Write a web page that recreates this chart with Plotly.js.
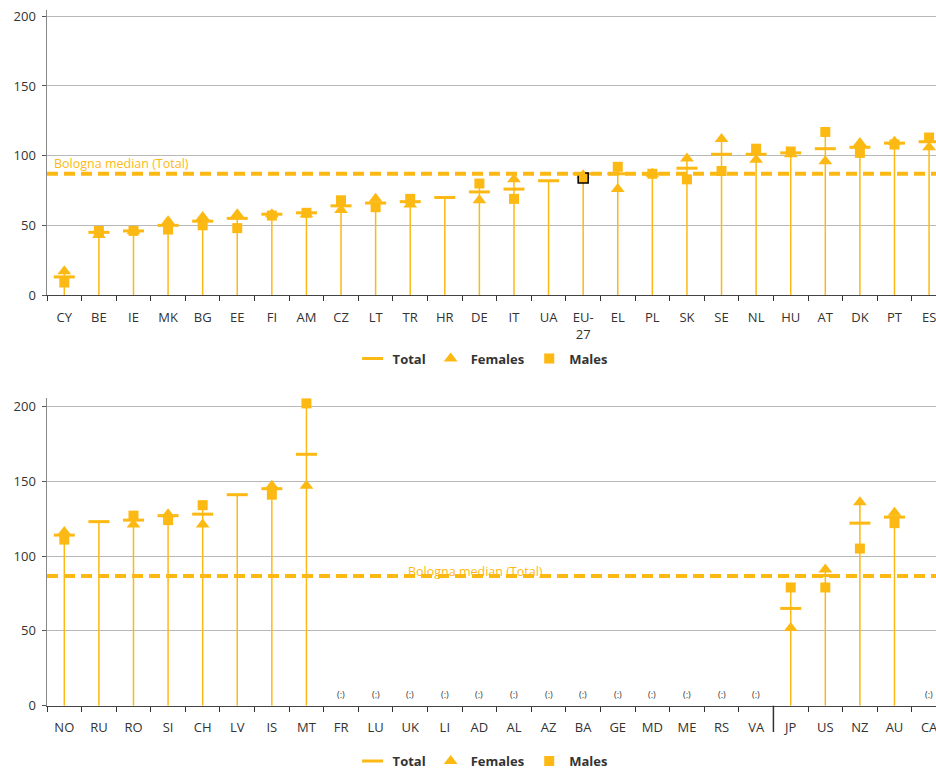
<!DOCTYPE html>
<html>
<head>
<meta charset="utf-8">
<script src="https://cdn.plot.ly/plotly-3.0.1.min.js"></script>
<style>html,body{margin:0;padding:0;background:#fff;}#chart{width:936px;height:776px;}</style>
</head>
<body>
<div id="chart"></div>
<script>
// ---------- DATA ----------
const topCategories = ['CY','BE','IE','MK','BG','EE','FI','AM','CZ','LT','TR','HR','DE','IT','UA','EU-<br>27','EL','PL','SK','SE','NL','HU','AT','DK','PT','ES'];
const topTotal   = [13,45,46,50,53,55,58,59,64,66,67,70,74,76,82,87,87,87,91,101,101,102,105,106,109,110];
const topFemales = [17,43,46,53,56,58,58,58,61,69,65,null,68,83,null,86,76,87,98,112,97,101,96,109,110,106];
const topMales   = [9,46,46,47,50,48,57,59,68,63,69,null,80,69,null,84,92,87,83,89,105,103,117,102,108,113];

const bottomCategories = ['NO','RU','RO','SI','CH','LV','IS','MT','FR','LU','UK','LI','AD','AL','AZ','BA','GE','MD','ME','RS','VA','JP','US','NZ','AU','CA'];
const bottomTotal   = [114,123,124,127,128,141,145,168,null,null,null,null,null,null,null,null,null,null,null,null,null,65,87,122,126,null];
const bottomFemales = [116,null,121,128,121,null,147,147,null,null,null,null,null,null,null,null,null,null,null,null,null,52,91,136,129,null];
const bottomMales   = [111,null,127,124,134,null,141,202,null,null,null,null,null,null,null,null,null,null,null,null,null,79,79,105,122,null];

const bolognaMedian = 87;
const medianLabel = 'Bologna median (Total)';
const missingLabel = '(:)';
const highlightedCategory = 'EU-<br>27';

// ---------- STYLE ----------
const ORANGE = '#FDB913';
const FONT = '"Open Sans", "DejaVu Sans", sans-serif';
const TXT = '#333333';

function stems(cats, a, b, c, xa, ya) {
  const xs = [], ys = [];
  cats.forEach((cat, i) => {
    const vals = [a[i], b[i], c[i]].filter(v => v !== null && v !== undefined);
    if (vals.length) {
      xs.push(cat, cat, null);
      ys.push(0, Math.max(...vals), null);
    }
  });
  return {x: xs, y: ys, xaxis: xa, yaxis: ya, type: 'scatter', mode: 'lines',
          line: {color: ORANGE, width: 1.5}, showlegend: false, hoverinfo: 'skip', cliponaxis: false};
}

function seriesTraces(cats, tot, fem, mal, xa, ya, legendName, showMark) {
  const malLineColor = cats.map(c => (showMark && c === highlightedCategory) ? '#000000' : ORANGE);
  const malLineWidth = cats.map(c => (showMark && c === highlightedCategory) ? 1.5 : 0);
  return [
    {x: cats, y: tot, xaxis: xa, yaxis: ya, type: 'scatter', mode: 'markers', name: 'Total',
     legend: legendName, cliponaxis: false,
     marker: {symbol: 'line-ew', size: 15, color: ORANGE, line: {color: ORANGE, width: 3}}},
    {x: cats, y: fem, xaxis: xa, yaxis: ya, type: 'scatter', mode: 'markers', name: 'Females',
     legend: legendName, cliponaxis: false,
     marker: {symbol: 'triangle-up', size: 12, color: ORANGE, line: {width: 0}}},
    {x: cats, y: mal, xaxis: xa, yaxis: ya, type: 'scatter', mode: 'markers', name: 'Males',
     legend: legendName, cliponaxis: false,
     marker: {symbol: 'square', size: 10, color: ORANGE, line: {color: malLineColor, width: malLineWidth}}}
  ];
}

const data = [
  stems(topCategories, topTotal, topFemales, topMales, 'x', 'y'),
  ...seriesTraces(topCategories, topTotal, topFemales, topMales, 'x', 'y', 'legend', true),
  stems(bottomCategories, bottomTotal, bottomFemales, bottomMales, 'x2', 'y2'),
  ...seriesTraces(bottomCategories, bottomTotal, bottomFemales, bottomMales, 'x2', 'y2', 'legend2', false)
];

// Missing-data annotations
const annotations = [];
bottomCategories.forEach((c, i) => {
  if (bottomTotal[i] === null) {
    annotations.push({x: c, y: 7.8, xref: 'x2', yref: 'y2', text: missingLabel, showarrow: false,
      font: {family: FONT, size: 9, color: TXT}});
  }
});
annotations.push({x: -0.37, y: 94.5, xref: 'x', yref: 'y', text: medianLabel, showarrow: false,
  xanchor: 'left', font: {family: FONT, size: 12.5, color: ORANGE}});
annotations.push({x: 11.9, y: 90, xref: 'x2', yref: 'y2', text: medianLabel, showarrow: false,
  xanchor: 'center', font: {family: FONT, size: 12.5, color: ORANGE}});

const shapes = [
  {type: 'line', xref: 'x domain', yref: 'y', x0: 0, x1: 1, y0: bolognaMedian, y1: bolognaMedian,
   line: {color: ORANGE, width: 4, dash: '11px,6px'}, layer: 'above'},
  {type: 'line', xref: 'x2 domain', yref: 'y2', x0: 0, x1: 1, y0: bolognaMedian - 0.4, y1: bolognaMedian - 0.4,
   line: {color: ORANGE, width: 4, dash: '11px,6px'}, layer: 'below'},
  // separator between European and non-European countries
  {type: 'line', xref: 'x2', yref: 'paper', x0: 20.5, x1: 20.5, y0: 0.0567, y1: 0.0906,
   line: {color: '#333333', width: 1.5}}
];

const xaxisCommon = {
  type: 'category', range: [-0.5, 25.2], tickson: 'boundaries', ticks: 'outside', ticklen: 5,
  tickcolor: '#333', showline: true, linecolor: '#444', linewidth: 1.2, showgrid: false,
  tickfont: {family: FONT, size: 13, color: TXT}, tickangle: 0, fixedrange: true, automargin: false,
  categoryorder: 'array', ticklabelstandoff: 10
};
const yaxisCommon = {
  showline: true, linecolor: '#888', linewidth: 1.5, showgrid: true, gridcolor: '#b8b8b8', gridwidth: 1,
  ticks: 'outside', ticklen: 4, tickcolor: '#555', tickvals: [0, 50, 100, 150, 200],
  tickfont: {family: FONT, size: 13, color: TXT}, zeroline: false, fixedrange: true, automargin: false,
  ticklabelstandoff: 3
};

const legendCommon = {
  orientation: 'h', xanchor: 'center', bgcolor: 'rgba(0,0,0,0)',
  font: {family: FONT, size: 13, color: TXT, weight: 'bold'}, itemwidth: 30, tracegroupgap: 0
};

const layout = {
  width: 936, height: 776,
  margin: {l: 47, r: 0, t: 0, b: 0},
  paper_bgcolor: '#ffffff', plot_bgcolor: '#ffffff',
  font: {family: FONT, color: TXT},
  xaxis: Object.assign({}, xaxisCommon, {anchor: 'y', categoryarray: topCategories}),
  yaxis: Object.assign({}, yaxisCommon, {domain: [0.6198, 0.9871], range: [0, 204.5], anchor: 'x'}),
  xaxis2: Object.assign({}, xaxisCommon, {anchor: 'y2', categoryarray: bottomCategories}),
  yaxis2: Object.assign({}, yaxisCommon, {domain: [0.0906, 0.4867], range: [0, 205.4], anchor: 'x2'}),
  legend: Object.assign({}, legendCommon, {x: 0.49, y: 0.538, yanchor: 'middle'}),
  legend2: Object.assign({}, legendCommon, {x: 0.49, y: 0.0, yanchor: 'bottom'}),
  annotations: annotations,
  shapes: shapes,
  showlegend: true
};

Plotly.newPlot('chart', data, layout, {displayModeBar: false, staticPlot: true});
</script>
</body>
</html>
